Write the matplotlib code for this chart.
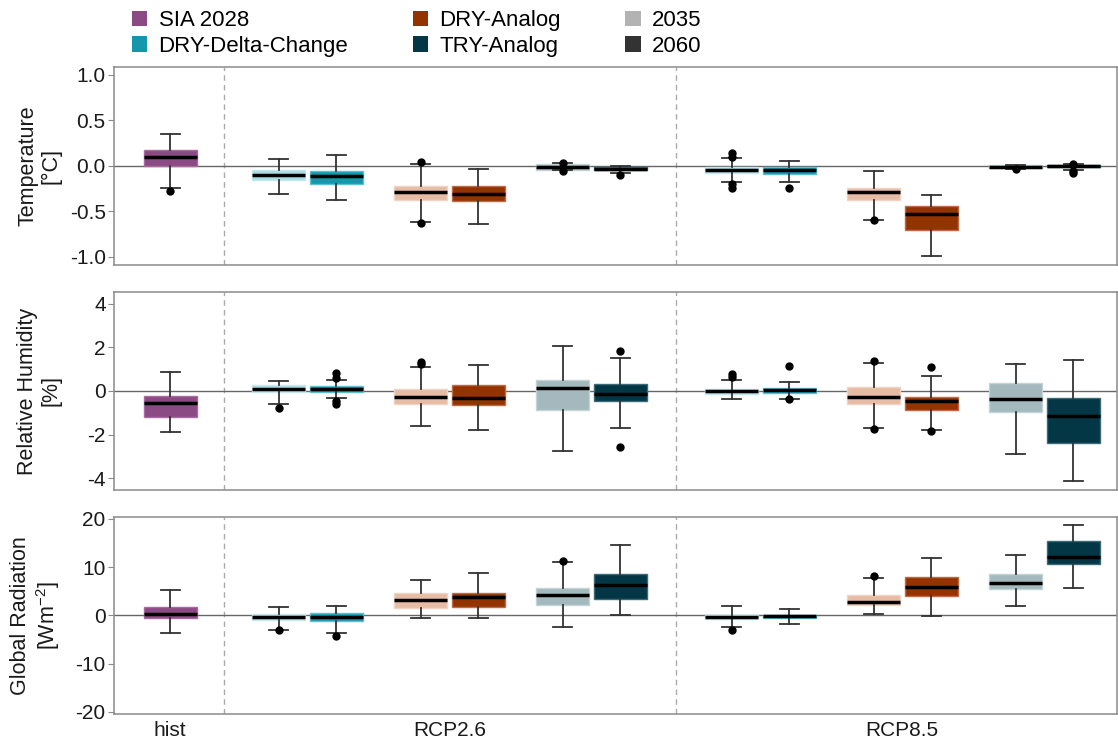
import matplotlib
matplotlib.use('Agg')
import matplotlib.pyplot as plt
from matplotlib.patches import Patch

plt.rcParams['font.family'] = ['Liberation Sans', 'DejaVu Sans']
plt.rcParams['axes.unicode_minus'] = False
plt.rcParams['mathtext.fontset'] = 'custom'
plt.rcParams['mathtext.rm'] = 'Liberation Sans'

# box order: hist, then per scenario DDC 2035/2060, DRY-A 2035/2060, TRY-A 2035/2060
scenarios = ['hist', 'RCP2.6', 'RCP8.5']

# Temperature [°C]
t_med = [0.10, -0.10, -0.11, -0.29, -0.31, -0.01, -0.03, -0.05, -0.04, -0.29, -0.53, -0.01, 0.00]
t_q1 = [0.00, -0.16, -0.20, -0.38, -0.39, -0.05, -0.05, -0.08, -0.09, -0.38, -0.70, -0.025, -0.015]
t_q3 = [0.17, -0.05, -0.055, -0.22, -0.22, 0.02, -0.01, -0.015, -0.015, -0.24, -0.44, 0.008, 0.01]
t_lo = [-0.245, -0.31, -0.38, -0.62, -0.635, -0.05, -0.08, -0.18, -0.176, -0.59, -0.995, -0.03, -0.04]
t_hi = [0.35, 0.08, 0.125, 0.025, -0.03, 0.03, 0.0, 0.092, 0.058, -0.055, -0.32, 0.01, 0.02]
t_out = [[-0.28], [], [], [0.044, -0.63], [], [0.036, -0.058], [-0.095],
         [0.14, 0.10, -0.20, -0.245], [-0.242], [-0.59], [], [-0.036], [0.025, -0.06, -0.08]]

# Relative humidity [%]
h_med = [-0.57, 0.09, 0.077, -0.276, -0.32, 0.14, -0.14, -0.015, 0.03, -0.29, -0.46, -0.37, -1.15]
h_q1 = [-1.195, -0.06, -0.03, -0.61, -0.64, -0.89, -0.47, -0.12, -0.08, -0.60, -0.89, -0.98, -2.41]
h_q3 = [-0.23, 0.275, 0.22, 0.09, 0.275, 0.49, 0.31, 0.10, 0.12, 0.17, -0.26, 0.37, -0.32]
h_lo = [-1.885, -0.58, -0.34, -1.62, -1.81, -2.74, -1.69, -0.35, -0.35, -1.70, -1.79, -2.88, -4.14]
h_hi = [0.89, 0.47, 0.52, 1.12, 1.18, 2.07, 1.53, 0.49, 0.40, 1.29, 0.69, 1.24, 1.44]
h_out = [[], [-0.80], [0.84, 0.61, -0.45, -0.60], [1.35, 1.24], [], [], [1.82, -2.59],
         [0.77, 0.66], [1.15, -0.38], [1.39, -1.75], [1.10, -1.84], [], []]

# Global radiation [W m-2]
r_med = [0.28, -0.28, -0.41, 3.11, 3.80, 4.15, 6.22, -0.35, -0.21, 2.77, 5.95, 6.70, 12.17]
r_q1 = [-0.48, -0.97, -1.18, 1.52, 1.73, 2.14, 3.46, -0.70, -0.62, 2.14, 4.08, 5.53, 10.58]
r_q3 = [1.72, 0.35, 0.56, 4.63, 4.63, 5.67, 8.65, 0.00, 0.14, 4.29, 7.88, 8.50, 15.40]
r_lo = [-3.73, -3.04, -3.66, -0.62, -0.55, -2.49, 0.07, -2.49, -1.80, 0.20, -0.14, 1.87, 5.60]
r_hi = [5.25, 1.80, 1.94, 7.40, 8.78, 11.10, 14.60, 1.87, 1.24, 7.75, 11.97, 12.45, 18.70]
r_out = [[], [-3.1], [-4.29], [], [], [11.2], [], [-3.04], [], [8.2], [], [], []]

t_ticks = [-1.0, -0.5, 0.0, 0.5, 1.0]
t_ticklabels = ['-1.0', '-0.5', '0.0', '0.5', '1.0']
h_ticks = [-4, -2, 0, 2, 4]
h_ticklabels = ['-4', '-2', '0', '2', '4']
r_ticks = [-20, -10, 0, 10, 20]
r_ticklabels = ['-20', '-10', '0', '10', '20']

legend_labels = ['SIA 2028', 'DRY-Delta-Change', 'DRY-Analog', 'TRY-Analog', '2035', '2060']
legend_colors = ['#8c4a84', '#1597ab', '#933400', '#033746', '#b3b3b3', '#333333']

# fill colours: model colour for 2060, pale version for 2035
pair_colors = [('#a9dbe3', '#1597ab'), ('#e7bca5', '#933400'), ('#a3b9bd', '#033746')]
pair_edges = [('#c4e8ee', '#5cc0cf'), ('#f0d3c4', '#c06a48'), ('#c3d3d6', '#3d6a78')]

# x layout
group_center = [1.70, 4.495, 9.023]
model_offset = [-1.42, 0.0, 1.42]
year_offset = [-0.2875, 0.2875]
box_w = 0.53

positions = [group_center[0]]
fills = ['#8c4a84']
edges = ['#a86aa0']
for g in group_center[1:]:
    for m in range(3):
        for y in range(2):
            positions.append(g + model_offset[m] + year_offset[y])
            fills.append(pair_colors[m][y])
            edges.append(pair_edges[m][y])

vlines = [(positions[0] + positions[1]) / 2, (positions[6] + positions[7]) / 2]

fig = plt.figure(figsize=(11.18, 7.44), dpi=100)
left, width = 114 / 1118, 1003 / 1118
panels = [
    (t_med, t_q1, t_q3, t_lo, t_hi, t_out, (-1.09, 1.088), t_ticks, t_ticklabels, 'Temperature\n[°C]', 67, 265),
    (h_med, h_q1, h_q3, h_lo, h_hi, h_out, (-4.55, 4.55), h_ticks, h_ticklabels, 'Relative Humidity\n[%]', 292, 490),
    (r_med, r_q1, r_q3, r_lo, r_hi, r_out, (-20.45, 20.4), r_ticks, r_ticklabels, 'Global Radiation\n[Wm$^{\\mathregular{-2}}$]', 517, 714),
]

axes = []
for i, (med, q1, q3, lo, hi, out, ylim, ticks, tlabels, ylabel, top, bot) in enumerate(panels):
    ax = fig.add_axes([left, 1 - bot / 744, width, (bot - top) / 744])
    axes.append(ax)
    stats = [dict(med=med[k], q1=q1[k], q3=q3[k], whislo=lo[k], whishi=hi[k], fliers=out[k])
             for k in range(len(med))]
    ax.axhline(0, color='#666666', lw=1.0, zorder=1)
    for xv in vlines:
        ax.axvline(xv, color='#aaaaaa', lw=1.0, ls=(0, (4, 3)), zorder=0)
    bp = ax.bxp(stats, positions=positions, widths=box_w, patch_artist=True, capwidths=0.19,
                boxprops=dict(linewidth=1.0),
                medianprops=dict(color='black', linewidth=2.5, solid_capstyle='butt'),
                whiskerprops=dict(color='#333333', linewidth=1.3),
                capprops=dict(color='#333333', linewidth=1.3),
                flierprops=dict(marker='o', markerfacecolor='black', markeredgecolor='black', markersize=5))
    for patch, fc, ec in zip(bp['boxes'], fills, edges):
        patch.set_facecolor(fc)
        patch.set_edgecolor(ec)
        patch.set_zorder(2)
    ax.set_xlim(1.14, 11.17)
    ax.set_ylim(*ylim)
    ax.set_yticks(ticks)
    ax.set_yticklabels(tlabels)
    ax.tick_params(axis='y', length=4, color='#8a8a8a', labelsize=15, labelcolor='#1a1a1a', pad=2)
    for s in ax.spines.values():
        s.set_color('#8a8a8a')
        s.set_linewidth(1.1)
    ax.set_ylabel(ylabel, fontsize=15.5, color='#1a1a1a', linespacing=1.15)
    ax.yaxis.set_label_coords(-0.052, 0.5)
    if i < 2:
        ax.tick_params(axis='x', length=0, labelbottom=False)
    else:
        ax.set_xticks(group_center)
        ax.set_xticklabels(scenarios)
        ax.tick_params(axis='x', length=0, labelsize=15, labelcolor='#1a1a1a', pad=5)

handles = [Patch(facecolor=c, edgecolor='none', label=l) for c, l in zip(legend_colors, legend_labels)]
fig.legend(handles=handles, loc='upper left', bbox_to_anchor=(0.112, 0.995), ncol=3, frameon=False,
           fontsize=16, handlelength=0.7, handleheight=0.7, handletextpad=0.5,
           columnspacing=2.9, labelspacing=0.2, borderaxespad=0.0, borderpad=0.3)

fig.savefig('out.png', dpi=100)
